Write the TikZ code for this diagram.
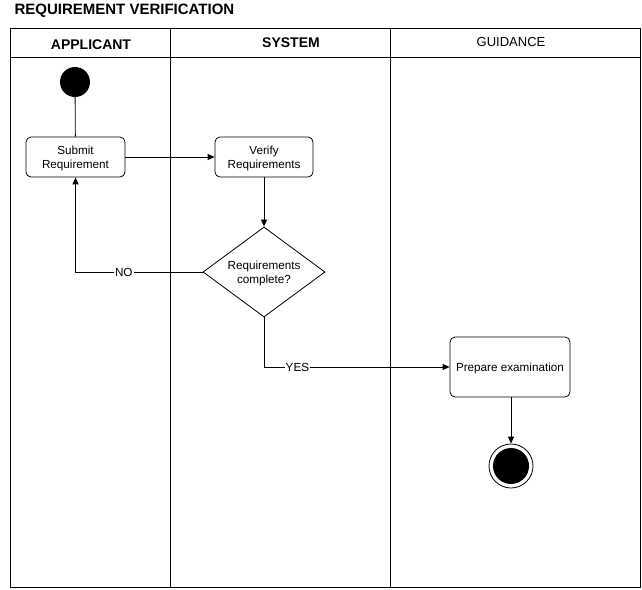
\documentclass[tikz,border=0pt]{standalone}
\usepackage{fontspec}
\setmainfont{Liberation Sans}
\usetikzlibrary{shapes.geometric,arrows.meta}
\begin{document}
\begin{tikzpicture}[x=1pt,y=-1pt,
  every node/.style={font=\fontsize{11.7}{14}\selectfont},
  act/.style={draw,rounded corners=5pt,line width=0.8pt,align=center,inner sep=0pt},
  dec/.style={draw,diamond,line width=0.8pt,align=center,inner sep=0pt},
  lane/.style={draw,line width=0.8pt},
  flow/.style={line width=0.8pt,-{Triangle[length=7pt,width=6pt]}},
  lbl/.style={fill=white,inner sep=1pt}]
\useasboundingbox (0,0) rectangle (642,589);
% title
\node[anchor=west,font=\fontsize{15}{17}\selectfont\bfseries] (title) at (11,11) {REQUIREMENT VERIFICATION};
% pool and lanes
\draw[lane] (10,28) rectangle (640,587);
\draw[lane] (10,57) -- (640,57);
\draw[lane] (170,28) -- (170,587);
\draw[lane] (390,28) -- (390,587);
\node[font=\fontsize{14}{16}\selectfont\bfseries] (h1) at (91,45) {APPLICANT};
\node[font=\fontsize{14}{16}\selectfont\bfseries] (h2) at (291,43) {SYSTEM};
\node[font=\fontsize{13}{15}\selectfont] (h3) at (511,42) {GUIDANCE};
% nodes
\node[circle,fill=black,minimum size=30pt,inner sep=0pt] (start) at (75,82) {};
\node[act,minimum width=99pt,minimum height=40pt] (submit) at (75.5,157) {};
\node[align=center] (submittext) at (75.5,158.5) {Submit\\Requirement};
\node[act,minimum width=98pt,minimum height=40pt] (verify) at (264,157) {};
\node[align=center] (verifytext) at (264,158.5) {Verify\\Requirements};
\node[dec,minimum width=122pt,minimum height=90pt,aspect=1.3556] (dec) at (264,272) {};
\node[align=center] (dectext) at (264,273.5) {Requirements\\complete?};
\node[act,minimum width=120pt,minimum height=60pt] (prep) at (510,367) {};
\node (preptext) at (510,368.5) {Prepare examination};
\node[circle,draw,line width=0.8pt,minimum size=44pt,inner sep=0pt] (end) at (511,466) {};
\node[circle,fill=black,minimum size=36pt,inner sep=0pt] (endin) at (511,466) {};
% edges
\draw[line width=0.8pt] (start) -- (submit);
\draw[flow] (submit) -- (verify);
\draw[flow] (verify) -- (dec.north);
\draw[flow] (dec.west) -| node[lbl,pos=0.31] {NO} (submit.south);
\coordinate (yescorner) at (264,367);
\draw[flow] (dec.south) -- (yescorner) -- node[lbl,pos=0.18] {YES} (prep.west);
\draw[flow] (prep.south -| end.north) -- (end.north);
\end{tikzpicture}
\end{document}
